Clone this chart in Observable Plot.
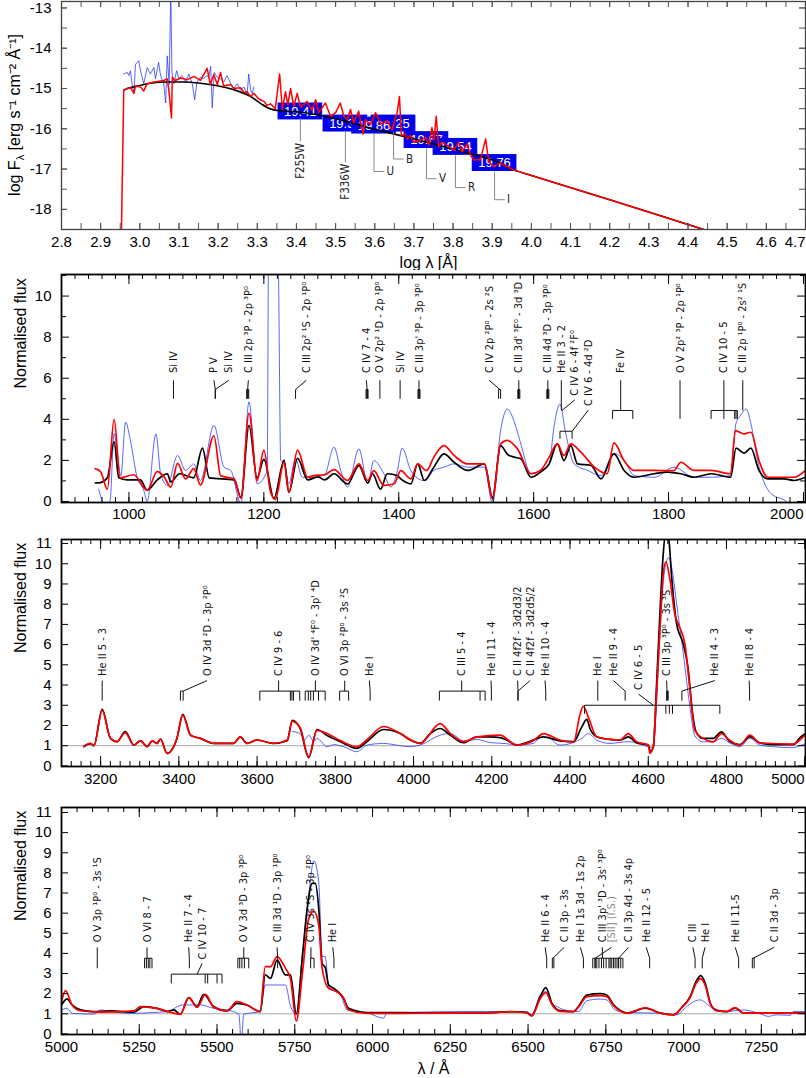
<!DOCTYPE html>
<html><head><meta charset="utf-8">
<script src="https://cdn.jsdelivr.net/npm/d3@7"></script>
<script src="https://cdn.jsdelivr.net/npm/@observablehq/plot@0.6"></script>
<style>
body{margin:0;background:#fff;}
#chart{width:806px;}
#chart svg{display:block;}
</style></head><body><div id="chart"></div>
<script>
// ---------------- DATA ----------------
// Panel 1: SED (log lambda, log F)
const p1Blue = [[2.959,-14.64],[2.968,-14.6],[2.972,-14.68],[2.976,-14.56],[2.98,-14.88],[2.985,-15.12],[2.989,-14.4],[2.997,-14.31],[3.002,-14.56],[3.01,-14.88],[3.019,-14.48],[3.027,-14.64],[3.036,-14.48],[3.04,-14.76],[3.048,-14.35],[3.053,-14.68],[3.061,-14.88],[3.066,-15.36],[3.07,-14.19],[3.075,-14.9],[3.079,-12.5],[3.082,-14.6],[3.087,-14.88],[3.094,-14.56],[3.1,-14.76],[3.108,-14.68],[3.117,-14.84],[3.125,-14.64],[3.134,-14.88],[3.14,-15.28],[3.146,-14.84],[3.155,-14.72],[3.163,-14.76],[3.17,-14.68],[3.176,-14.72],[3.181,-14.45],[3.185,-15.48],[3.19,-14.6],[3.198,-14.72],[3.206,-14.76],[3.214,-14.84],[3.223,-14.68],[3.232,-14.88],[3.24,-15.0],[3.249,-14.88],[3.257,-15.04],[3.266,-14.96],[3.274,-15.16],[3.278,-14.64],[3.283,-15.04],[3.287,-15.12],[3.291,-14.96]];
const p1Black = [[2.959,-15.04],[2.968,-15.0],[2.985,-14.96],[3.002,-14.92],[3.027,-14.87],[3.07,-14.84],[3.112,-14.84],[3.155,-14.87],[3.198,-14.93],[3.24,-15.03],[3.283,-15.2],[3.31,-15.38],[3.325,-15.47],[3.342,-15.53],[3.368,-15.56],[3.41,-15.59],[3.5,-15.75],[3.58,-15.96],[3.666,-16.17],[3.793,-16.49],[3.92,-16.85],[3.955,-17.02],[4.0,-17.16],[4.2,-17.76],[4.44,-18.5],[4.46,-18.56]];
const p1Red = [[2.953,-18.6],[2.959,-15.04],[2.968,-15.0],[2.976,-14.98],[2.985,-15.12],[2.989,-14.94],[3.002,-14.96],[3.01,-15.06],[3.019,-14.88],[3.036,-14.84],[3.061,-14.8],[3.07,-14.76],[3.074,-15.04],[3.081,-15.73],[3.083,-14.72],[3.091,-14.8],[3.104,-14.74],[3.121,-14.78],[3.138,-14.7],[3.155,-14.8],[3.172,-14.5],[3.18,-14.9],[3.189,-14.66],[3.198,-14.9],[3.206,-14.6],[3.214,-14.94],[3.232,-14.9],[3.24,-15.0],[3.257,-14.98],[3.266,-15.1],[3.274,-15.08],[3.283,-15.2],[3.291,-15.12],[3.304,-15.26],[3.317,-15.32],[3.325,-15.42],[3.334,-15.38],[3.346,-15.5],[3.357,-14.64],[3.364,-15.52],[3.372,-15.08],[3.378,-15.4],[3.385,-15.0],[3.393,-15.44],[3.402,-15.12],[3.41,-15.46],[3.419,-15.4],[3.427,-15.32],[3.44,-15.54],[3.449,-15.28],[3.457,-15.6],[3.474,-15.36],[3.487,-15.69],[3.5,-15.6],[3.512,-15.36],[3.521,-15.69],[3.53,-15.77],[3.538,-15.52],[3.546,-15.85],[3.559,-15.56],[3.57,-16.13],[3.576,-15.77],[3.589,-15.89],[3.602,-15.6],[3.615,-15.88],[3.632,-15.8],[3.644,-16.03],[3.657,-15.6],[3.663,-15.2],[3.668,-16.17],[3.678,-16.13],[3.683,-16.25],[3.691,-16.17],[3.7,-16.33],[3.717,-16.29],[3.73,-16.21],[3.738,-16.41],[3.746,-15.97],[3.751,-16.29],[3.757,-15.69],[3.763,-16.45],[3.772,-16.33],[3.785,-16.41],[3.802,-16.53],[3.814,-16.33],[3.823,-16.57],[3.836,-16.37],[3.844,-16.65],[3.853,-16.77],[3.87,-16.77],[3.883,-16.25],[3.891,-16.81],[3.904,-16.94],[3.92,-16.85],[3.938,-16.94],[3.955,-17.02],[4.0,-17.16],[4.2,-17.76],[4.44,-18.5],[4.46,-18.56]];
// photometry (in drawing order)
const filterNames = ["F255W","F336W","B","U","V","R","I"];
const filterMags = ["19.41","19.39","19.25","19.86","19.67","19.54","19.76"];
const filterLogLam = [3.41,3.525,3.648,3.598,3.732,3.806,3.906];
const filterLogF = [-15.57,-15.87,-15.87,-15.92,-16.28,-16.45,-16.85];
const filterLabelLevel = [-16.31,-16.83,-16.75,-17.06,-17.24,-17.46,-17.76];

// Panel 2: UV 900-2000 A
const p2Blue = [[955,0.6],[965,-0.2],[972,0.05],[978,3.3],[983,2.2],[988,1.26],[995,3.86],[1002,3.0],[1012,1.18],[1022,0.54],[1027,0.0],[1040,3.29],[1047,1.35],[1057,0.78],[1072,2.24],[1084,1.51],[1096,1.83],[1106,1.02],[1126,3.7],[1141,1.67],[1151,1.51],[1166,-0.1],[1178,4.85],[1190,0.86],[1205,1.51],[1207,12],[1221,12],[1225,1.99],[1230,1.91],[1237,0.86],[1247,2.08],[1257,1.18],[1274,1.18],[1290,1.3],[1304,2.64],[1314,1.5],[1324,0.7],[1341,2.56],[1354,0.86],[1363,1.99],[1378,1.35],[1388,0.7],[1398,1.5],[1405,2.6],[1418,1.5],[1437,1.02],[1452,1.51],[1467,1.67],[1482,1.83],[1502,1.67],[1527,1.67],[1539,-0.1],[1551,3.46],[1561,4.5],[1571,3.9],[1581,2.8],[1596,1.35],[1610,1.51],[1623,1.83],[1630,3.6],[1639,4.75],[1647,3.4],[1660,1.83],[1680,1.51],[1700,1.26],[1719,2.35],[1734,1.99],[1749,1.26],[1779,1.18],[1808,1.67],[1838,1.18],[1863,1.18],[1892,1.26],[1900,3.8],[1907,4.2],[1915,4.5],[1922,3.8],[1932,1.99],[1942,0.9],[1955,0.3],[1970,0.1],[1985,-0.3]];
const p2Black = [[950,0.9],[958,0.92],[968,1.15],[978,2.9],[985,1.15],[997,1.05],[1017,1.05],[1027,0.55],[1042,1.05],[1057,1.35],[1062,0.95],[1075,1.35],[1096,1.15],[1109,2.6],[1119,1.15],[1156,1.05],[1166,0.2],[1178,3.7],[1190,1.15],[1200,2.05],[1215,0.15],[1230,2.0],[1237,0.45],[1250,2.1],[1265,1.05],[1280,1.2],[1290,1.05],[1304,1.35],[1324,0.85],[1341,1.75],[1354,0.9],[1361,1.35],[1373,0.6],[1383,1.35],[1398,1.25],[1403,1.1],[1418,0.86],[1428,1.83],[1438,1.02],[1452,1.67],[1467,2.32],[1482,1.91],[1502,1.51],[1527,1.83],[1539,0.21],[1551,2.72],[1561,2.3],[1571,2.16],[1581,2.08],[1596,1.18],[1610,1.43],[1623,1.83],[1635,2.8],[1645,1.99],[1655,2.72],[1665,1.83],[1685,1.75],[1700,1.1],[1719,2.32],[1734,1.51],[1749,1.18],[1779,1.35],[1798,1.43],[1818,1.35],[1838,1.18],[1863,1.35],[1892,1.18],[1900,2.6],[1912,2.35],[1922,2.6],[1934,1.51],[1947,1.1],[1971,1.1],[1986,1.02],[2003,1.18]];
const p2Red = [[950,1.6],[958,1.45],[968,0.6],[978,4.0],[987,1.15],[1007,1.3],[1027,0.55],[1042,1.45],[1052,1.2],[1062,0.7],[1072,1.85],[1084,1.1],[1096,1.6],[1106,0.8],[1126,3.2],[1136,1.25],[1156,1.1],[1166,0.15],[1178,4.3],[1190,1.02],[1200,2.5],[1210,0.45],[1217,0.1],[1230,1.9],[1237,0.45],[1250,2.5],[1265,1.18],[1274,1.26],[1290,1.3],[1304,1.55],[1324,1.02],[1341,1.83],[1354,1.02],[1363,1.5],[1378,0.78],[1393,0.86],[1403,1.5],[1418,1.1],[1428,1.83],[1441,1.5],[1452,2.16],[1467,2.72],[1482,2.24],[1502,1.83],[1527,1.83],[1539,0.13],[1551,2.8],[1561,2.97],[1576,2.56],[1596,1.35],[1610,1.51],[1623,2.16],[1635,2.8],[1645,2.24],[1655,2.8],[1670,2.4],[1690,1.67],[1709,1.35],[1719,2.85],[1734,1.99],[1749,1.51],[1779,1.51],[1808,1.5],[1818,1.91],[1838,1.51],[1863,1.51],[1892,1.35],[1899,3.45],[1912,3.29],[1922,3.37],[1934,1.99],[1947,1.18],[1986,1.18],[2003,1.51]];
// line IDs: [text, text wavelength, anchor wavelength, components, tier, level]
const p2Lines = [
 ["Si IV",1066,1066,[1066],0,"a"],
 ["P V",1126,1128,[1128],0,"a"],
 ["Si IV",1148,1128,[1128],0,"a"],
 ["C III 2p ³P - 2p ³P⁰",1177,1176,[1174.5,1175.5,1176.5,1177.5],0,"a"],
 ["C III 2p² ¹S - 2p ¹P⁰",1263,1247,[1247],0,"a"],
 ["C IV 7 - 4",1352,1353,[1351.5,1352.5,1353.5,1354.5],0,"a"],
 ["O V 2p² ¹D - 2p ¹P⁰",1372,1372,[1372],0,"a"],
 ["Si IV",1402,1402,[1402],0,"a"],
 ["C III 3p' ³P - 3p ³P⁰",1430,1430,[1428.5,1429.5,1430.5,1431.5],0,"a"],
 ["C IV 2p ²P⁰ - 2s ²S",1534,1550,[1548,1551],0,"a"],
 ["C III 3d' ³F⁰ - 3d ³D",1578,1578,[1576.5,1577.5,1578.5,1579.5],0,"a"],
 ["C III 4d ³D - 3p ³P⁰",1621,1621,[1619.5,1620.5,1621.5,1622.5],0,"a"],
 ["He II 3 - 2",1641,1641,[1641],0,"c"],
 ["C IV 6 - 4f ²F⁰",1661,1642,[1642],1,"c"],
 ["C IV 6 - 4d ²D",1681,1657,[1639,1657],2,"e"],
 ["Fe IV",1729,1729,[1717,1747],0,"b"],
 ["O V 2p² ³P - 2p ¹P⁰",1817,1817,[1817],0,"d"],
 ["C IV 10 - 5",1882,1882,[1863,1882,1898,1900,1902],0,"b"],
 ["C III 2p ¹P⁰ - 2s² ¹S",1910,1910,[1910],0,"c"]
];

// Panel 3: 3100-5000 A
const p3Blue = [[3690,1.7],[3710,1.6],[3722,1.3],[3732,1.52],[3745,1.2],[3753,1.36],[3779,0.95],[3796,1.05],[3821,0.95],[3855,0.7],[3881,1.03],[3923,1.11],[3966,1.0],[3991,0.95],[4017,1.03],[4068,1.52],[4094,1.6],[4128,1.24],[4162,1.31],[4196,1.15],[4238,1.1],[4264,1.03],[4306,1.11],[4332,1.6],[4374,1.03],[4430,1.36],[4447,1.6],[4468,1.28],[4502,1.11],[4549,1.2],[4600,0.95],[4613,0.9],[4621,3.0],[4630,6.5],[4640,9.4],[4652,10.3],[4662,9.6],[4672,8.1],[4690,5.5],[4706,3.0],[4719,1.5],[4740,1.19],[4766,1.19],[4787,1.36],[4808,1.14],[4834,0.95],[4860,1.36],[4885,1.03],[4920,0.95],[4970,0.9],[4987,1.0],[5002,1.1]];
const p3Black = [[3157,0.95],[3174,1.1],[3183,1.0],[3204,2.8],[3225,1.36],[3242,1.2],[3263,1.7],[3285,1.03],[3302,1.24],[3319,0.95],[3332,1.24],[3344,1.11],[3353,1.33],[3370,0.62],[3395,1.36],[3410,2.55],[3430,1.52],[3455,1.36],[3489,1.11],[3540,1.11],[3557,1.44],[3574,1.11],[3600,1.28],[3642,1.11],[3677,1.24],[3690,2.25],[3710,1.85],[3732,0.41],[3753,1.8],[3779,1.5],[3813,1.2],[3855,0.87],[3881,1.2],[3923,1.8],[3966,1.6],[3991,1.28],[4017,1.11],[4043,1.6],[4068,1.85],[4094,1.52],[4128,1.15],[4162,1.44],[4196,1.44],[4221,1.4],[4238,1.28],[4264,1.03],[4289,1.15],[4306,1.28],[4332,1.44],[4374,1.24],[4409,1.2],[4430,1.93],[4443,2.3],[4451,1.85],[4468,1.44],[4502,1.31],[4528,1.28],[4549,1.44],[4570,1.15],[4600,1.03],[4606,0.7],[4613,0.95],[4621,3.9],[4630,7.6],[4638,10.4],[4645,11.6],[4652,11.3],[4660,9.3],[4672,7.1],[4690,6.0],[4702,4.8],[4712,2.8],[4722,1.7],[4740,1.36],[4766,1.36],[4787,1.68],[4808,1.2],[4834,1.05],[4860,1.45],[4885,1.14],[4920,1.05],[4971,1.05],[4988,1.4],[5002,1.6]];
const p3Red = [[3157,0.97],[3174,1.12],[3183,1.0],[3204,2.75],[3225,1.36],[3242,1.2],[3263,1.65],[3285,1.03],[3302,1.24],[3319,0.95],[3332,1.24],[3344,1.11],[3353,1.33],[3370,0.62],[3395,1.36],[3410,2.5],[3430,1.52],[3455,1.36],[3489,1.11],[3540,1.11],[3557,1.44],[3574,1.11],[3600,1.28],[3642,1.11],[3677,1.28],[3690,2.2],[3710,1.9],[3732,0.45],[3753,1.75],[3779,1.6],[3813,1.25],[3855,0.95],[3881,1.3],[3923,1.95],[3966,1.6],[3991,1.31],[4017,1.11],[4068,2.09],[4094,1.6],[4128,1.2],[4162,1.44],[4221,1.52],[4264,1.03],[4306,1.24],[4332,1.6],[4374,1.28],[4409,1.17],[4426,2.58],[4434,2.95],[4447,2.4],[4468,1.44],[4502,1.31],[4528,1.28],[4549,1.6],[4570,1.2],[4600,1.03],[4604,0.62],[4613,1.0],[4621,3.56],[4630,6.83],[4638,9.44],[4645,10.1],[4655,9.28],[4668,7.5],[4681,6.83],[4694,6.0],[4706,3.9],[4719,1.76],[4740,1.36],[4766,1.19],[4787,1.6],[4808,1.27],[4834,1.03],[4860,1.52],[4885,1.14],[4970,1.08],[4987,1.27],[5002,1.55]];
const p3Lines = [
 ["He II 5 - 3",3204,3204,[3204],0,"a"],
 ["O IV 3d ²D - 3p ²P⁰",3472,3411,[3404,3411],0,"a"],
 ["C IV 9 - 6",3655,3655,[3607,3685,3689,3693,3709],0,"a"],
 ["O IV 3d' ⁴F⁰ - 3p' ⁴D",3749,3749,[3723,3731,3737,3744,3757,3774],0,"a"],
 ["O VI 3p ²P⁰ - 3s ²S",3824,3824,[3811,3834],0,"a"],
 ["He I",3887,3889,[3889],0,"a"],
 ["C III 5 - 4",4123,4123,[4066,4170,4183],0,"a"],
 ["He II 11 - 4",4198,4199,[4199],0,"a"],
 ["C II 4f2f - 3d2d3/2",4266,4267,[4267],0,"a"],
 ["C II 4f2f - 3d2d5/2",4298,4267,[4267],0,"a"],
 ["He II 10 - 4",4336,4338,[4338],0,"a"],
 ["He I",4471,4471,[4471],0,"a"],
 ["He II 9 - 4",4511,4541,[4541],0,"a"],
 ["C IV 6 - 5",4575,4613,[4437,4645,4654,4662,4783],1,"f"],
 ["C III 3p ³P⁰ - 3s ³S",4647,4648,[4647,4649,4651],0,"a"],
 ["He II 4 - 3",4770,4686,[4686],0,"a"],
 ["He II 8 - 4",4858,4859,[4859],0,"a"]
];

// Panel 4: 5000-7400 A
const p4Blue = [[5000,1.19],[5018,1.27],[5034,1.02],[5104,0.98],[5125,1.19],[5158,1.11],[5232,1.02],[5290,1.06],[5340,1.11],[5390,1.44],[5447,1.44],[5489,1.27],[5532,1.19],[5570,0.98],[5578,-0.4],[5586,0.98],[5639,1.11],[5655,2.43],[5720,2.43],[5736,1.4],[5755,0.98],[5774,3.9],[5795,6.9],[5811,8.6],[5827,7.56],[5838,3.84],[5848,3.84],[5859,2.3],[5897,1.94],[5918,1.2],[5982,1.06],[6036,0.78],[6045,1.02],[6089,1.06],[6150,1.08],[6282,1.11],[6389,1.11],[6496,1.11],[6512,0.95],[6539,1.93],[6557,2.1],[6577,1.52],[6593,1.36],[6625,1.16],[6662,1.11],[6689,1.65],[6732,1.73],[6753,1.69],[6780,1.19],[6818,1.06],[6925,1.03],[6978,0.95],[7010,1.36],[7032,1.6],[7053,1.69],[7086,1.36],[7139,1.11],[7193,1.19],[7246,1.0],[7273,0.87],[7300,0.95],[7343,0.92],[7353,1.11],[7392,1.11]];
const p4Black = [[5000,1.44],[5018,1.74],[5034,1.44],[5061,1.19],[5104,1.11],[5158,1.14],[5232,1.08],[5265,1.36],[5307,1.27],[5340,1.11],[5361,1.19],[5382,0.98],[5409,1.8],[5436,1.36],[5457,1.97],[5489,1.36],[5532,1.14],[5564,1.52],[5596,1.44],[5639,1.11],[5655,2.93],[5672,2.76],[5693,3.67],[5720,2.93],[5736,2.93],[5755,0.98],[5774,3.75],[5790,6.24],[5806,7.48],[5816,7.48],[5827,6.24],[5838,3.5],[5848,3.3],[5859,2.43],[5875,2.27],[5907,1.77],[5923,1.27],[5982,1.06],[6089,1.06],[6200,1.03],[6282,1.03],[6389,1.06],[6443,1.11],[6496,1.06],[6512,0.9],[6539,1.85],[6557,2.3],[6577,1.52],[6603,1.16],[6646,1.11],[6662,1.36],[6689,1.93],[6732,2.0],[6753,1.93],[6775,1.44],[6796,1.16],[6818,1.03],[6877,1.28],[6925,1.03],[6968,0.95],[6994,1.31],[7021,1.85],[7040,2.6],[7055,2.9],[7070,2.5],[7086,1.52],[7107,1.16],[7139,1.11],[7166,1.28],[7193,1.03],[7392,1.03]];
const p4Red = [[5000,1.6],[5013,2.15],[5034,1.44],[5061,1.15],[5125,1.08],[5232,1.14],[5254,1.36],[5307,1.27],[5382,0.98],[5409,1.8],[5436,1.32],[5463,1.97],[5489,1.32],[5532,1.14],[5564,1.6],[5596,1.44],[5639,1.11],[5655,3.34],[5672,3.34],[5693,3.84],[5720,3.26],[5736,2.76],[5755,0.64],[5774,2.93],[5795,5.74],[5811,6.1],[5827,5.41],[5838,3.26],[5859,2.27],[5875,2.18],[5907,1.77],[5923,1.19],[5982,1.02],[6089,1.02],[6200,1.03],[6282,1.03],[6389,1.06],[6443,1.1],[6496,1.05],[6512,0.9],[6539,1.75],[6557,2.05],[6577,1.45],[6603,1.12],[6646,1.1],[6662,1.33],[6689,1.85],[6732,1.9],[6753,1.85],[6775,1.4],[6796,1.14],[6818,1.03],[6877,1.3],[6925,1.03],[6968,0.95],[6994,1.3],[7021,1.8],[7040,2.5],[7055,2.75],[7070,2.4],[7086,1.5],[7107,1.15],[7139,1.11],[7166,1.31],[7193,1.03],[7392,1.03]];
const p4Lines = [
 ["O V 3p ¹P⁰ - 3s ¹S",5115,5115,[5115],0,"a"],
 ["O VI 8 - 7",5275,5275,[5267,5273,5279,5284,5291],0,"a"],
 ["He II 7 - 4",5409,5411,[5411],0,"a"],
 ["C IV 10 - 7",5452,5436,[5353,5462,5470,5500,5516],1,"g"],
 ["O V 3d ³D - 3p ³P⁰",5586,5586,[5567,5573,5580,5588,5602],0,"a"],
 ["C III 3d ¹D - 3p ¹P⁰",5693,5695,[5695],0,"a"],
 ["C IV 3s ²S - 3p ²P⁰",5802,5802,[5801,5812],0,"a"],
 ["He I",5872,5876,[5876],0,"a"],
 ["He II 6 - 4",6555,6560,[6560],0,"a"],
 ["C II 3p - 3s",6616,6580,[6578,6583],0,"a"],
 ["He I 1s 3d - 1s 2p",6668,6678,[6678],0,"a"],
 ["C III 3p' ³D - 3s' ³P⁰",6739,6739,[6708,6715,6721,6728,6736,6743,6751,6760,6764,6769,6775,6780,6786,6791,6798,6805],0,"a"],
 ["[SII] (I.S.)",6768,6716,[6716],0,"a"],
 ["C II 3p 4d - 3s 4p",6823,6791,[6791],0,"a"],
 ["He II 12 - 5",6880,6891,[6891],0,"a"],
 ["C III",7030,7037,[7037],0,"a"],
 ["He I",7069,7060,[7060],0,"a"],
 ["He II 11-5",7166,7177,[7177],0,"a"],
 ["C II 3d - 3p",7291,7224,[7221,7227],0,"a"]
];

// tick labels
const p1XTicks = d3.range(28, 48).map(i => i / 10);
const p1YTicks = [-18, -17, -16, -15, -14, -13];
const p2XTicks = [1000, 1200, 1400, 1600, 1800, 2000];
const p2YTicks = [0, 2, 4, 6, 8, 10];
const p3XTicks = [3200, 3400, 3600, 3800, 4000, 4200, 4400, 4600, 4800, 5000];
const p3YTicks = [0,1,2,3,4,5,6,7,8,9,10,11];
const p4XTicks = [5000, 5250, 5500, 5750, 6000, 6250, 6500, 6750, 7000, 7250];
const p4YTicks = [0,1,2,3,4,5,6,7,8,9,10,11];

// ---------------- HELPERS ----------------
const SANS = "'Liberation Sans', Arial, Helvetica, sans-serif";
const NARROW = "'Liberation Sans Narrow','DejaVu Sans Condensed','Arial Narrow','Roboto Condensed','Liberation Sans',sans-serif";
const W = 806, ML = 61, MR = 1;

function tickMarks(xd, yd, ph, xMaj, xMin, yMaj, yMin, L, stroke) {
  const pw = W - ML - MR;
  const kx = (xd[1] - xd[0]) / pw, ky = (yd[1] - yd[0]) / ph;
  const inX = t => t.filter(v => v >= xd[0] - 1e-9 && v <= xd[1] + 1e-9);
  const inY = t => t.filter(v => v >= yd[0] - 1e-9 && v <= yd[1] + 1e-9);
  const o = {stroke, strokeWidth: 1};
  const m = [];
  for (const [t, len] of [[inX(xMin), L[1]], [inX(xMaj), L[0]]]) {
    m.push(Plot.ruleX(t, {x: d => d, y1: yd[0], y2: yd[0] + len * ky, ...o}));
    m.push(Plot.ruleX(t, {x: d => d, y1: yd[1], y2: yd[1] - len * ky, ...o}));
  }
  for (const [t, len] of [[inY(yMin), L[3]], [inY(yMaj), L[2]]]) {
    m.push(Plot.ruleY(t, {y: d => d, x1: xd[0], x2: xd[0] + len * kx, ...o}));
    m.push(Plot.ruleY(t, {y: d => d, x1: xd[1], x2: xd[1] - len * kx, ...o}));
  }
  return m;
}
function xLabels(ticks, fmt, pad, endLast) {
  const main = endLast ? ticks.slice(0, -1) : ticks;
  const o = {x: d => d, frameAnchor: "bottom", dy: pad, lineAnchor: "top", text: fmt, fontSize: 15, fontFamily: SANS, fill: "#000"};
  const m = [Plot.text(main, o)];
  if (endLast) m.push(Plot.text(ticks.slice(-1), {...o, textAnchor: "end", dx: 0}));
  return m;
}
function yLabels(ticks, fmt) {
  return Plot.text(ticks, {y: d => d, frameAnchor: "left", dx: -10, textAnchor: "end", text: fmt, fontSize: 15, fontFamily: SANS, fill: "#000"});
}
function leaderSegs(lines, cfg) {
  const segs = [];
  for (const [t, xt, xa, comps, tier, lv] of lines) {
    const top = cfg.lineTop[tier], Lv = cfg.levels[lv];
    segs.push({x1: xt, y1: top, x2: xa, y2: Lv.k});
    if (comps.length > 1) segs.push({x1: d3.min(comps), y1: Lv.k, x2: d3.max(comps), y2: Lv.k});
    if (Lv.b !== Lv.k) for (const c of comps) segs.push({x1: c, y1: Lv.k, x2: c, y2: Lv.b});
  }
  return segs;
}
function lineIdMarks(lines, cfg) {
  const tOpts = {x: d => d[1], y: d => cfg.textY[d[4]], text: d => d[0], rotate: -90, textAnchor: "start", lineAnchor: "middle", fontSize: 11, fontFamily: NARROW};
  return [
    Plot.link(leaderSegs(lines, cfg), {x1: "x1", y1: "y1", x2: "x2", y2: "y2", stroke: "#111", strokeWidth: 1}),
    Plot.text(lines.filter(d => !d[0].startsWith("[")), {...tOpts, fill: "#111"}),
    Plot.text(lines.filter(d => d[0].startsWith("[")), {...tOpts, fill: "#888"})
  ];
}
const spec = (data, stroke, w, extra = {}) => Plot.line(data, {x: d => d[0], y: d => d[1], stroke, strokeWidth: w, clip: true, curve: "monotone-x", ...extra});

// ---------------- PANEL 1 ----------------
function panel1() {
  const xd = [2.8, 4.7], yd = [-18.5, -12.84], mt = 1, mb = 41, h = 270, ph = h - mt - mb;
  const hw = 0.057, hh = 0.21, hook = 0.026;
  const F = filterNames.map((n, i) => ({n, mag: filterMags[i], x: filterLogLam[i], y: filterLogF[i], ly: filterLabelLevel[i], rot: i < 2}));
  const boxMarks = F.flatMap(f => [
    Plot.rect([f], {x1: d => d.x - hw, x2: d => d.x + hw, y1: d => d.y - hh, y2: d => d.y + hh, fill: "#0000ee"}),
    Plot.text([f], {x: "x", y: "y", text: "mag", fill: "white", fontSize: 13, fontFamily: SANS})
  ]);
  const leaders = [];
  F.forEach(f => {
    leaders.push({x1: f.x, y1: f.y - hh, x2: f.x, y2: f.ly});
    if (!f.rot) leaders.push({x1: f.x, y1: f.ly, x2: f.x + hook, y2: f.ly});
  });
  const minorX = d3.range(56, 95).map(i => +(i * 0.05).toFixed(2));
  const minorY = d3.range(-37, -25).map(i => i / 2);
  const svg = Plot.plot({
    width: W, height: h, marginLeft: ML, marginRight: MR, marginTop: mt, marginBottom: mb,
    x: {domain: xd, axis: null}, y: {domain: yd, axis: null},
    style: {fontFamily: SANS, background: "white"},
    marks: [
      ...boxMarks,
      Plot.line(p1Blue, {x: d => d[0], y: d => d[1], stroke: "#2233ff", strokeOpacity: 0.75, strokeWidth: 1, clip: true}),
      Plot.line(p1Black, {x: d => d[0], y: d => d[1], stroke: "#000", strokeWidth: 1.6, clip: true, curve: "monotone-x"}),
      Plot.line(p1Red, {x: d => d[0], y: d => d[1], stroke: "#ff0000", strokeWidth: 1.5, clip: true}),
      Plot.link(leaders, {x1: "x1", y1: "y1", x2: "x2", y2: "y2", stroke: "#888", strokeWidth: 1}),
      Plot.text(F.filter(f => f.rot), {x: "x", y: d => d.ly - 0.04, text: "n", rotate: -90, textAnchor: "end", lineAnchor: "middle", fontSize: 11.5, fontFamily: NARROW, fill: "#222"}),
      Plot.text(F.filter(f => !f.rot), {x: d => d.x + hook + 0.006, y: "ly", text: "n", textAnchor: "start", lineAnchor: "middle", fontSize: 11.5, fontFamily: NARROW, fill: "#222"}),
      ...tickMarks(xd, yd, ph, p1XTicks, minorX, p1YTicks, minorY, [6, 6, 6, 6], "#555"),
      Plot.frame({stroke: "#444", strokeWidth: 1.3}),
      ...xLabels(p1XTicks, d => d.toFixed(1), 7, true),
      yLabels(p1YTicks, d => String(d)),
      Plot.text(["log λ [Å]"], {frameAnchor: "bottom", dy: 33, dx: -5, lineAnchor: "middle", fontSize: 16, fontFamily: SANS, fill: "#000"})
    ]
  });
  const t = d3.select(svg).append("text")
    .attr("transform", `translate(14,${mt + ph / 2}) rotate(-90)`)
    .attr("text-anchor", "middle").attr("dy", "0.35em")
    .attr("font-family", SANS).attr("font-size", 16).attr("fill", "#000");
  t.append("tspan").text("log F");
  t.append("tspan").attr("font-size", 11).attr("dy", 4).text("λ");
  t.append("tspan").attr("dy", -4).text(" [erg s⁻¹ cm⁻² Å⁻¹]");
  return svg;
}

// ---------------- SPECTRUM PANELS ----------------
function specPanel(c) {
  const ph = c.h - c.mt - c.mb;
  const marks = [];
  if (c.baseline) marks.push(Plot.ruleY([1], {stroke: "#aaa", strokeWidth: 1}));
  marks.push(
    spec(c.blue, "#2233ff", 1, {strokeOpacity: 0.75}),
    spec(c.black, "#000", 1.7),
    spec(c.red, "#ff0000", 1.7),
    ...lineIdMarks(c.lines, c.cfg),
    ...tickMarks(c.xd, c.yd, ph, c.xTicks, c.xMinor, c.yMajT, c.yMinT, c.tl, "#000"),
    Plot.frame({stroke: "#000", strokeWidth: 1.8}),
    ...xLabels(c.xTicks, d => String(d), c.pad, c.endLast),
    yLabels(c.yTicks, d => String(d)),
    Plot.text(["Normalised flux"], {frameAnchor: "left", dx: -41, rotate: -90, lineAnchor: "middle", fontSize: 16, fontFamily: SANS, fill: "#000"})
  );
  if (c.xlabel) marks.push(Plot.text([c.xlabel], {frameAnchor: "bottom", dy: 34, lineAnchor: "middle", fontSize: 16, fontFamily: SANS, fill: "#000"}));
  return Plot.plot({
    width: W, height: c.h, marginLeft: ML, marginRight: MR, marginTop: c.mt, marginBottom: c.mb,
    x: {domain: c.xd, axis: null}, y: {domain: c.yd, axis: null},
    style: {fontFamily: SANS, background: "white"},
    marks
  });
}

const chart = document.getElementById("chart");
chart.appendChild(panel1());
chart.appendChild(specPanel({
  h: 257, mt: 4, mb: 25, xd: [900, 2003], yd: [-0.05, 11.05], baseline: false,
  blue: p2Blue, black: p2Black, red: p2Red, lines: p2Lines,
  cfg: {textY: [6.25, 5.15, 4.65], lineTop: [5.9, 4.95, 4.45],
        levels: {a: {k: 5.45, b: 5.0}, b: {k: 4.43, b: 4.02}, c: {k: 4.43, b: 4.43}, d: {k: 4.02, b: 4.02}, e: {k: 3.42, b: 3.05}}},
  xTicks: p2XTicks, xMinor: d3.range(900, 2004, 20), yTicks: p2YTicks,
  yMajT: p2YTicks, yMinT: [1, 3, 5, 7, 9, 11], tl: [10, 5, 8, 5], pad: 6, endLast: true
}));
chart.appendChild(specPanel({
  h: 268, mt: 12, mb: 29, xd: [3100, 5002], yd: [-0.03, 11.2], baseline: true,
  blue: p3Blue, black: p3Black, red: p3Red, lines: p3Lines,
  cfg: {textY: [4.45, 3.75], lineTop: [4.22, 3.55], levels: {a: {k: 3.7, b: 3.23}, f: {k: 3.0, b: 2.58}}},
  xTicks: p3XTicks, xMinor: d3.range(3100, 5003, 25), yTicks: p3YTicks,
  yMajT: p3YTicks, yMinT: [], tl: [10, 5, 7, 5], pad: 7, endLast: true
}));
chart.appendChild(specPanel({
  h: 283, mt: 12, mb: 44, xd: [5000, 7392], yd: [-0.03, 11.25], baseline: true,
  blue: p4Blue, black: p4Black, red: p4Red, lines: p4Lines,
  cfg: {textY: [4.55, 3.7], lineTop: [4.3, 3.5], levels: {a: {k: 3.76, b: 3.26}, g: {k: 2.97, b: 2.51}}},
  xTicks: p4XTicks, xMinor: d3.range(5000, 7393, 50), yTicks: p4YTicks,
  yMajT: p4YTicks, yMinT: [], tl: [10, 5, 7, 5], pad: 7, endLast: false, xlabel: "λ / Å"
}));
</script></body></html>
